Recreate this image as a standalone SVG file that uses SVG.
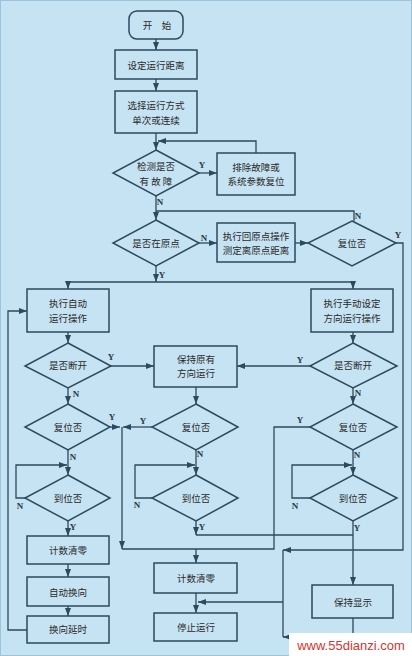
<svg xmlns="http://www.w3.org/2000/svg" width="412" height="656" viewBox="0 0 412 656">
<defs>
<style>
.bx{fill:#c6e3f3;stroke:#2d4a5c;stroke-width:1.5}
.ln{fill:none;stroke:#2d4a5c;stroke-width:1.3}
.t{font-family:"Noto Sans CJK SC","Noto Sans CJK TC",sans-serif;font-size:9.5px;fill:#2a2a2a;text-anchor:middle;dominant-baseline:central}
.l{font-family:"Liberation Serif",serif;font-size:9px;font-weight:bold;fill:#2d3a44;text-anchor:middle;dominant-baseline:central}
</style>
<marker id="a" viewBox="0 0 8 6" refX="8" refY="3" markerWidth="8" markerHeight="6" markerUnits="userSpaceOnUse" orient="auto"><path d="M0,0 L8,3 L0,6 z" fill="#2d4a5c"/></marker>
</defs>
<rect x="0" y="0" width="412" height="656" fill="#c6e3f3"/>
<rect x="0.5" y="0.5" width="411" height="655" fill="none" stroke="#9cc3d8" stroke-width="1"/>

<g id="connectors">
<path class="ln" d="M156,39 V50" marker-end="url(#a)"/>
<path class="ln" d="M156,79 V91" marker-end="url(#a)"/>
<path class="ln" d="M156,133 V150" marker-end="url(#a)"/>
<path class="ln" d="M256,153 V141 H158" marker-end="url(#a)"/>
<path class="ln" d="M199,173 H217" marker-end="url(#a)"/>
<path class="ln" d="M156,196 V220" marker-end="url(#a)"/>
<path class="ln" d="M354,221 V211 H156"/>
<path class="ln" d="M199,243 H217" marker-end="url(#a)"/>
<path class="ln" d="M295,243 H308" marker-end="url(#a)"/>
<path class="ln" d="M396,243 H403 V550 H283" marker-end="url(#a)"/>
<path class="ln" d="M156,266 V282" marker-end="url(#a)"/>
<path class="ln" d="M68,282 H353"/>
<path class="ln" d="M68,282 V289" marker-end="url(#a)"/>
<path class="ln" d="M353,282 V289" marker-end="url(#a)"/>
<path class="ln" d="M68,332 V343" marker-end="url(#a)"/>
<path class="ln" d="M111,366 H154" marker-end="url(#a)"/>
<path class="ln" d="M68,388 V404" marker-end="url(#a)"/>
<path class="ln" d="M110,427 H120" marker-end="url(#a)"/>
<path class="ln" d="M68,450 V475" marker-end="url(#a)"/>
<path class="ln" d="M25,498 H16 V465 H67" marker-end="url(#a)"/>
<path class="ln" d="M68,521 V536" marker-end="url(#a)"/>
<path class="ln" d="M68,564 V577" marker-end="url(#a)"/>
<path class="ln" d="M68,606 V616" marker-end="url(#a)"/>
<path class="ln" d="M27,630 H8 V311 H27" marker-end="url(#a)"/>
<path class="ln" d="M196,387 V404" marker-end="url(#a)"/>
<path class="ln" d="M152,427 H123" marker-end="url(#a)"/>
<path class="ln" d="M122,427 V549" marker-end="url(#a)"/>
<path class="ln" d="M310,427 H274 V549 H122"/>
<path class="ln" d="M196,549 V563" marker-end="url(#a)"/>
<path class="ln" d="M196,450 V475" marker-end="url(#a)"/>
<path class="ln" d="M152,498 H135 V465 H195" marker-end="url(#a)"/>
<path class="ln" d="M196,521 V535" marker-end="url(#a)"/>
<path class="ln" d="M196,535 H353"/>
<path class="ln" d="M196,593 V613" marker-end="url(#a)"/>
<path class="ln" d="M283,550 V637"/>
<path class="ln" d="M283,602 H198" marker-end="url(#a)"/>
<path class="ln" d="M353,332 V343" marker-end="url(#a)"/>
<path class="ln" d="M310,366 H237" marker-end="url(#a)"/>
<path class="ln" d="M353,388 V404" marker-end="url(#a)"/>
<path class="ln" d="M353,450 V475" marker-end="url(#a)"/>
<path class="ln" d="M310,498 H292 V465 H352" marker-end="url(#a)"/>
<path class="ln" d="M353,521 V585" marker-end="url(#a)"/>
<path class="ln" d="M353,618 V637 H283" marker-end="url(#a)"/>
</g>

<g id="labels">
<text class="l" x="202" y="165">Y</text>
<text class="l" x="160" y="202">N</text>
<text class="l" x="358" y="216">N</text>
<text class="l" x="204" y="238">N</text>
<text class="l" x="162" y="275">Y</text>
<text class="l" x="398" y="235">Y</text>
<text class="l" x="111" y="357">Y</text>
<text class="l" x="76" y="394">N</text>
<text class="l" x="300" y="360">Y</text>
<text class="l" x="358" y="393">N</text>
<text class="l" x="112" y="417">Y</text>
<text class="l" x="73" y="457">N</text>
<text class="l" x="143" y="421">Y</text>
<text class="l" x="200" y="454">N</text>
<text class="l" x="300" y="420">Y</text>
<text class="l" x="357" y="455">N</text>
<text class="l" x="20" y="506">N</text>
<text class="l" x="73" y="527">Y</text>
<text class="l" x="137" y="505">N</text>
<text class="l" x="202" y="527">Y</text>
<text class="l" x="295" y="506">N</text>
<text class="l" x="357" y="528">Y</text>
</g>

<g id="start"><rect class="bx" x="129" y="11" width="54" height="28" rx="8"/><text class="t" x="157" y="25">开　始</text></g>
<g id="setDist"><rect class="bx" x="115" y="50" width="82" height="29"/><text class="t" x="156" y="65">设定运行距离</text></g>
<g id="selectMode"><rect class="bx" x="115" y="91" width="82" height="42"/><text class="t" x="156" y="105">选择运行方式</text><text class="t" x="156" y="119.5">单次或连续</text></g>
<g id="checkFault"><polygon class="bx" points="156,150 199,173 156,196 113,173"/><text class="t" x="156" y="166">检测是否</text><text class="t" x="156" y="180.5">有 故 障</text></g>
<g id="clearFault"><rect class="bx" x="217" y="153" width="78" height="42"/><text class="t" x="256" y="166.5">排除故障或</text><text class="t" x="256" y="181">系统参数复位</text></g>
<g id="atOrigin"><polygon class="bx" points="156,220 199,243 156,266 113,243"/><text class="t" x="156" y="243">是否在原点</text></g>
<g id="homing"><rect class="bx" x="217" y="223" width="78" height="39"/><text class="t" x="256" y="235.5">执行回原点操作</text><text class="t" x="256" y="250">测定离原点距离</text></g>
<g id="resetTop"><polygon class="bx" points="352,221 396,243 352,266 308,243"/><text class="t" x="352" y="243">复位否</text></g>

<g id="autoRun"><rect class="bx" x="27" y="289" width="82" height="43"/><text class="t" x="68" y="303">执行自动</text><text class="t" x="68" y="317.5">运行操作</text></g>
<g id="manualRun"><rect class="bx" x="311" y="289" width="82" height="43"/><text class="t" x="352" y="303">执行手动设定</text><text class="t" x="352" y="317.5">方向运行操作</text></g>
<g id="brkL"><polygon class="bx" points="68,343 111,366 68,388 25,366"/><text class="t" x="68" y="365">是否断开</text></g>
<g id="keepDir"><rect class="bx" x="154" y="346" width="83" height="41"/><text class="t" x="196" y="358.5">保持原有</text><text class="t" x="196" y="373">方向运行</text></g>
<g id="brkR"><polygon class="bx" points="353,343 397,366 353,388 310,366"/><text class="t" x="353" y="365">是否断开</text></g>

<g id="rstL"><polygon class="bx" points="68,404 110,427 68,450 25,427"/><text class="t" x="68" y="427">复位否</text></g>
<g id="rstM"><polygon class="bx" points="196,404 238,427 196,450 152,427"/><text class="t" x="196" y="427">复位否</text></g>
<g id="rstR"><polygon class="bx" points="353,404 397,427 353,450 310,427"/><text class="t" x="353" y="427">复位否</text></g>

<g id="arrL"><polygon class="bx" points="68,475 110,498 68,521 25,498"/><text class="t" x="68" y="498">到位否</text></g>
<g id="arrM"><polygon class="bx" points="196,475 238,498 196,521 152,498"/><text class="t" x="196" y="498">到位否</text></g>
<g id="arrR"><polygon class="bx" points="353,475 397,498 353,521 310,498"/><text class="t" x="353" y="498">到位否</text></g>

<g id="clrL"><rect class="bx" x="27" y="536" width="82" height="28"/><text class="t" x="68" y="550">计数清零</text></g>
<g id="autoRev"><rect class="bx" x="27" y="577" width="82" height="29"/><text class="t" x="68" y="592">自动换向</text></g>
<g id="revDelay"><rect class="bx" x="27" y="616" width="82" height="27"/><text class="t" x="68" y="629">换向延时</text></g>
<g id="clrM"><rect class="bx" x="154" y="563" width="83" height="30"/><text class="t" x="196" y="578">计数清零</text></g>
<g id="stop"><rect class="bx" x="154" y="613" width="83" height="28"/><text class="t" x="196" y="627">停止运行</text></g>
<g id="holdDisp"><rect class="bx" x="312" y="585" width="81" height="33"/><text class="t" x="353" y="602">保持显示</text></g>

<g id="watermark"><rect x="289" y="633" width="123" height="23" fill="#ffffff"/><text x="351" y="645" font-family="Liberation Sans,Arial,sans-serif" font-size="13" fill="#d8342c" text-anchor="middle" dominant-baseline="central">www.55dianzi.com</text></g>
</svg>
